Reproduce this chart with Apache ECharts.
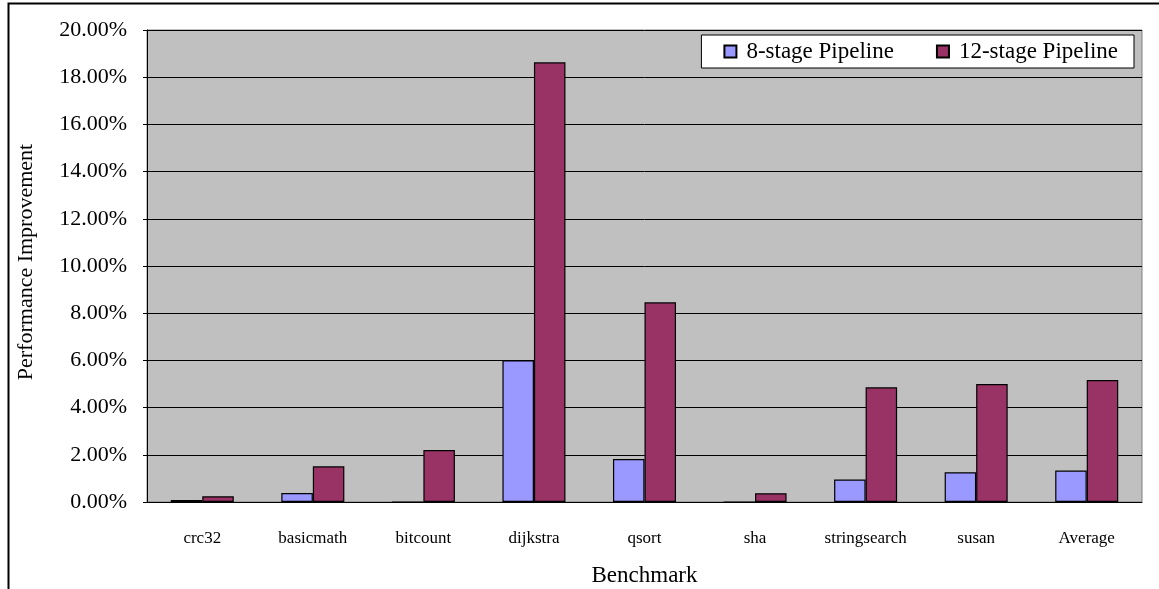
<!DOCTYPE html>
<html>
<head>
<meta charset="utf-8">
<script src="https://cdn.jsdelivr.net/npm/echarts@6/dist/echarts.min.js"></script>
<style>
  html, body { margin: 0; padding: 0; background: #fff; }
  #chart { width: 1159px; height: 589px; }
</style>
</head>
<body>
<div id="chart"></div>
<script>
// Benchmarks on the category axis
const categories = ['crc32', 'basicmath', 'bitcount', 'dijkstra', 'qsort', 'sha', 'stringsearch', 'susan', 'Average'];
// Performance improvement, in percent
const stage8 = [0.08, 0.38, 0, 6.0, 1.82, 0, 0.95, 1.26, 1.33];
const stage12 = [0.24, 1.51, 2.2, 18.63, 8.46, 0.37, 4.86, 5.0, 5.17];
const seriesNames = ['8-stage Pipeline', '12-stage Pipeline'];

const serif = '"Liberation Serif", "DejaVu Serif", serif';

const chart = echarts.init(document.getElementById('chart'));
chart.setOption({
  animation: false,
  textStyle: { fontFamily: serif },
  graphic: [{
    type: 'rect',
    shape: { x: 8.5, y: 3.5, width: 1200, height: 700 },
    style: { fill: 'none', stroke: '#000', lineWidth: 2 },
    silent: true
  }],
  grid: {
    left: 147, right: 17, top: 30, bottom: 87,
    outerBoundsMode: 'none',
    show: true,
    backgroundColor: '#C0C0C0',
    borderColor: '#808080',
    borderWidth: 1
  },
  legend: {
    data: seriesNames,
    right: 25, top: 35,
    backgroundColor: '#fff',
    borderColor: '#000',
    borderWidth: 1,
    borderRadius: 0,
    padding: [5, 16, 5, 22],
    itemGap: 42,
    itemWidth: 12,
    itemHeight: 12,
    icon: 'rect',
    textStyle: { fontFamily: serif, fontSize: 23, color: '#000', padding: [0, 0, 0, 5] }
  },
  xAxis: {
    type: 'category',
    data: categories,
    name: 'Benchmark',
    nameLocation: 'middle',
    nameGap: 62,
    nameTextStyle: { fontFamily: serif, fontSize: 23, color: '#000' },
    axisLine: { lineStyle: { color: '#000', width: 1 } },
    axisTick: { inside: true, length: 5, lineStyle: { color: '#000' } },
    axisLabel: { fontFamily: serif, fontSize: 17, color: '#000', margin: 28 },
    splitLine: { show: false }
  },
  yAxis: {
    type: 'value',
    min: 0, max: 20, interval: 2,
    name: 'Performance Improvement',
    nameLocation: 'middle',
    nameGap: 110,
    nameTextStyle: { fontFamily: serif, fontSize: 22, color: '#000', padding: [0, 0, 0, 8] },
    axisLine: { show: true, lineStyle: { color: '#000', width: 1 } },
    axisTick: { show: true, inside: false, length: 4, lineStyle: { color: '#000' } },
    axisLabel: {
      fontFamily: serif, fontSize: 22, color: '#000', margin: 20,
      padding: [6, 0, 0, 0],
      formatter: v => v.toFixed(2) + '%'
    },
    splitLine: { lineStyle: { color: '#000', width: 1 } }
  },
  series: [
    {
      name: seriesNames[0],
      type: 'bar',
      data: stage8,
      barGap: '0%',
      barCategoryGap: '43%',
      itemStyle: { color: '#9999FF', borderColor: '#000', borderWidth: 1.2 }
    },
    {
      name: seriesNames[1],
      type: 'bar',
      data: stage12,
      itemStyle: { color: '#993366', borderColor: '#000', borderWidth: 1.2 }
    }
  ]
});
</script>
</body>
</html>
